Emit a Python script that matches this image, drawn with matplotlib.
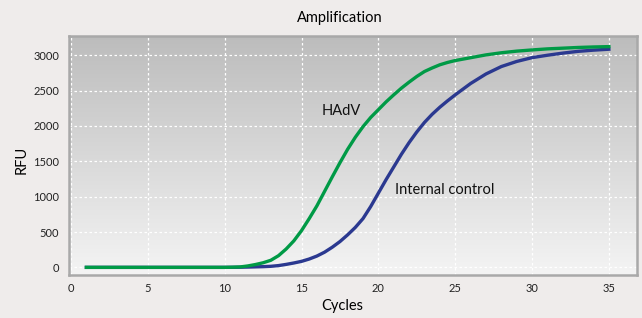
import numpy as np
import matplotlib.pyplot as plt
from matplotlib.colors import LinearSegmentedColormap

plt.rcParams['font.family'] = ['Lato', 'DejaVu Sans']

# Datos (medio ciclo en la zona de subida)
ciclos = [1, 2, 3, 4, 5, 6, 7, 8, 9, 10,
          10.5, 11, 11.5, 12, 12.5, 13, 13.5, 14, 14.5, 15, 15.5, 16, 16.5, 17, 17.5,
          18, 18.5, 19, 19.5, 20, 20.5, 21, 21.5, 22, 22.5, 23, 23.5, 24, 24.5,
          25, 26, 27, 28, 29, 30, 31, 32, 33, 34, 35]
hadv = [0, 0, 0, 0, 0, 0, 0, 0, 0, 0,
        2, 6, 20, 40, 65, 100, 165, 260, 375, 520, 690, 870, 1075, 1280, 1480,
        1670, 1840, 1990, 2120, 2230, 2340, 2440, 2535, 2620, 2700, 2770, 2820, 2865, 2898,
        2925, 2965, 3005, 3035, 3058, 3075, 3090, 3100, 3110, 3117, 3122]
control = [0, 0, 0, 0, 0, 0, 0, 0, 0, 0,
           1, 2, 4, 7, 10, 15, 25, 42, 62, 85, 118, 160, 215, 285, 365,
           460, 565, 690, 860, 1050, 1240, 1420, 1600, 1765, 1915, 2050, 2165, 2265, 2355,
           2440, 2600, 2735, 2840, 2912, 2966, 3000, 3030, 3055, 3072, 3085]
xticks = [0, 5, 10, 15, 20, 25, 30, 35]
yticks = [0, 500, 1000, 1500, 2000, 2500, 3000]

fig = plt.figure(figsize=(6.42, 3.18), dpi=100, facecolor='#efeceb')
ax = fig.add_axes([0.1075, 0.135, 0.8845, 0.752])

# fondo degradado
grad = np.linspace(0, 1, 256).reshape(-1, 1)
cmap = LinearSegmentedColormap.from_list('fondo', ['#bcbcbc', '#f4f4f4'])
ax.imshow(grad, extent=[0, 1, 0, 1], transform=ax.transAxes, aspect='auto',
          cmap=cmap, zorder=0)

ax.plot(ciclos, control, color='#2b3990', linewidth=2.4, solid_joinstyle='round', zorder=3)
ax.plot(ciclos, hadv, color='#009a46', linewidth=2.4, solid_joinstyle='round', zorder=4)

ax.set_xlim(-0.13, 36.82)
ax.set_ylim(-109, 3273)
ax.set_xticks(xticks)
ax.set_yticks(yticks)
ax.tick_params(length=0, labelsize=8, colors='#222222')
ax.tick_params(axis='y', pad=7)
ax.tick_params(axis='x', pad=6)
ax.grid(color='white', linestyle=(0, (2, 2)), linewidth=0.9, zorder=1)
for s in ax.spines.values():
    s.set_color('#a9a9a9')
    s.set_linewidth(1.8)

ax.text(16.3, 2212, 'HAdV', fontsize=10.5, va='center', ha='left', color='#111111')
ax.text(21.1, 1094, 'Internal control', fontsize=10.5, va='center', ha='left', color='#111111')

fig.text(340 / 642, 1 - 18 / 318, 'Amplification', ha='center', va='center', fontsize=10.5)
fig.text(342 / 642, 1 - 306 / 318, 'Cycles', ha='center', va='center', fontsize=10.5)
fig.text(22 / 642, 1 - 160 / 318, 'RFU', ha='center', va='center', rotation=90, fontsize=10.5)

plt.savefig('out.png', dpi=100, facecolor=fig.get_facecolor())
